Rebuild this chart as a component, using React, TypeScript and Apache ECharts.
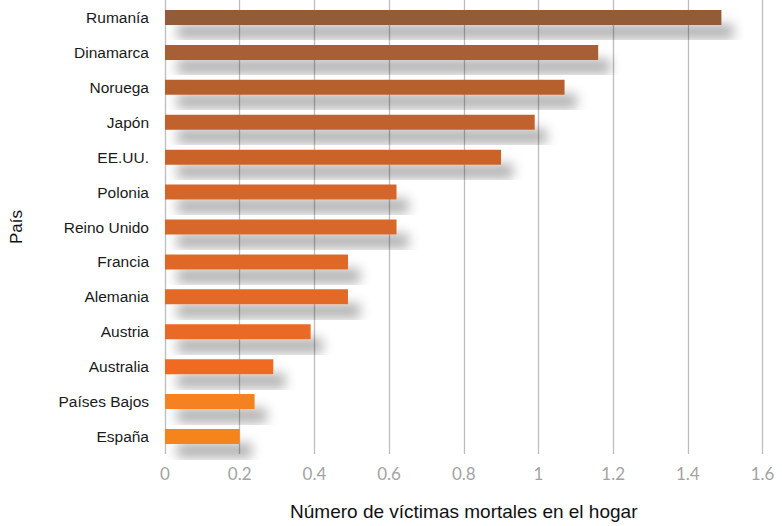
import React, { useEffect, useRef } from "react";
import * as echarts from "echarts";

const countries = [
  "Rumanía",
  "Dinamarca",
  "Noruega",
  "Japón",
  "EE.UU.",
  "Polonia",
  "Reino Unido",
  "Francia",
  "Alemania",
  "Austria",
  "Australia",
  "Países Bajos",
  "España",
];
const deaths = [1.49, 1.16, 1.07, 0.99, 0.9, 0.62, 0.62, 0.49, 0.49, 0.39, 0.29, 0.24, 0.2];
const barColors = [
  "#935c37",
  "#a75f34",
  "#b6612f",
  "#c1622d",
  "#c9642c",
  "#d4662a",
  "#d8672a",
  "#df6827",
  "#e26a26",
  "#e86a25",
  "#f06b23",
  "#f48220",
  "#f5841f",
];
const xTicks = { min: 0, max: 1.6, interval: 0.2 };
const xTitle = "Número de víctimas mortales en el hogar";
const yTitle = "País";

export default function App() {
  const ref = useRef<HTMLDivElement>(null);
  useEffect(() => {
    if (!ref.current) return;
    const chart = echarts.init(ref.current, null, { renderer: "svg" });
    chart.setOption({
      animation: false,
      backgroundColor: "#ffffff",
      grid: { left: 162.5, right: 19.5, top: -2.2, bottom: 68.3, containLabel: false },
      xAxis: {
        type: "value",
        min: xTicks.min,
        max: xTicks.max,
        interval: xTicks.interval,
        axisLine: { show: false },
        axisTick: { show: false },
        splitLine: { show: true, lineStyle: { color: "#bdbdbd", width: 1.3 } },
        axisLabel: {
          margin: 11,
          color: "#a3a3a3",
          fontFamily: "Lato, 'DejaVu Sans', sans-serif",
          fontSize: 17,
        },
        name: xTitle,
        nameLocation: "middle",
        nameGap: 48,
        nameTextStyle: {
          color: "#111",
          fontFamily: "'Liberation Sans', Arial, sans-serif",
          fontSize: 19,
        },
      },
      yAxis: {
        type: "category",
        data: countries,
        inverse: true,
        axisLine: { show: false },
        axisTick: { show: false },
        splitLine: { show: false },
        axisLabel: {
          margin: 16,
          color: "#1a1a1a",
          fontFamily: "'Liberation Sans', Arial, sans-serif",
          fontSize: 15.5,
        },
        name: yTitle,
        nameLocation: "middle",
        nameGap: 140,
        nameRotate: 90,
        nameTextStyle: {
          color: "#111",
          fontFamily: "'Liberation Sans', Arial, sans-serif",
          fontSize: 17,
        },
      },
      series: [
        {
          type: "bar",
          barWidth: 15,
          data: deaths.map((v, i) => ({
            value: v,
            itemStyle: { color: barColors[i] },
          })),
          itemStyle: {
            shadowColor: "rgba(0,0,0,0.3)",
            shadowBlur: 12,
            shadowOffsetX: 12,
            shadowOffsetY: 14,
          },
        },
      ],
    });
    return () => chart.dispose();
  }, []);
  return (
    <div
      ref={ref}
      style={{ position: "absolute", left: 0, top: 0, width: 782, height: 526 }}
    />
  );
}
